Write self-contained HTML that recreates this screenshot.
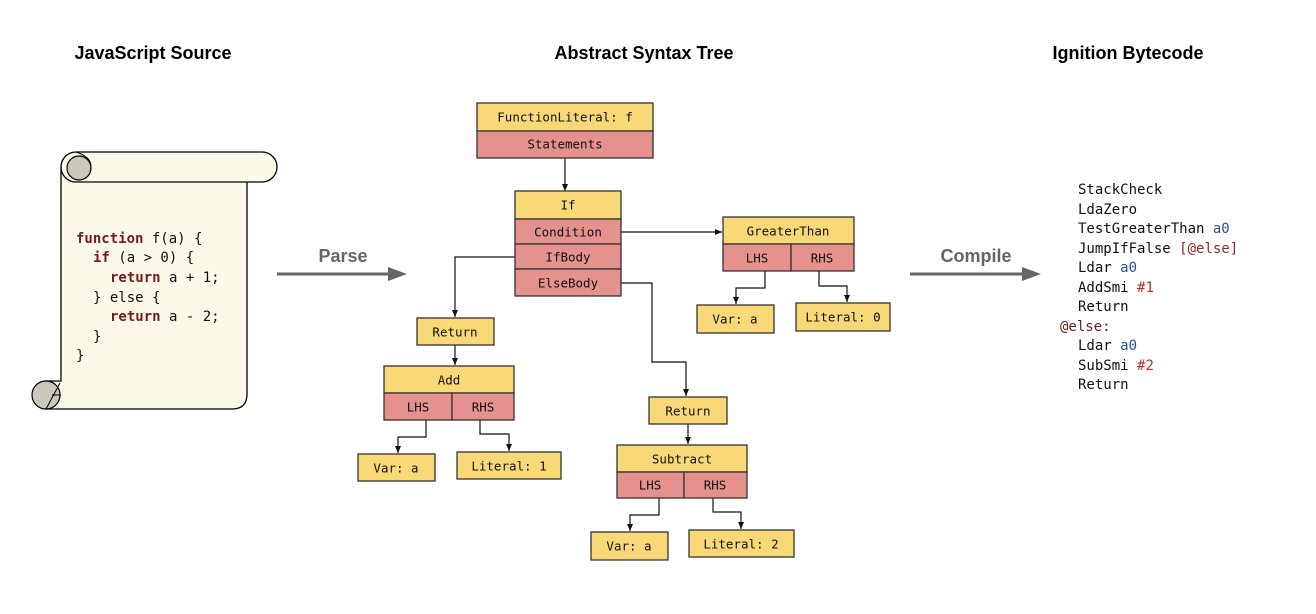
<!DOCTYPE html>
<html><head><meta charset="utf-8"><style>
html,body{margin:0;padding:0;background:#fff;}
svg{display:block;}
.t{font-family:"Liberation Sans",sans-serif;font-weight:bold;font-size:18px;fill:#000;text-anchor:middle;}
.n{font-family:"DejaVu Sans Mono","Liberation Mono",monospace;font-size:12.5px;fill:#111;text-anchor:middle;dominant-baseline:central;}
.c{font-family:"DejaVu Sans Mono","Liberation Mono",monospace;font-size:14px;fill:#111;}
.k{fill:#7a1a1a;font-weight:bold;}
.y{fill:#f9d977;stroke:#333;stroke-width:1.3;}
.r{fill:#e5918d;stroke:#333;stroke-width:1.3;}
.l{fill:none;stroke:#111;stroke-width:1.2;}
</style></head><body>
<svg width="1316" height="614" viewBox="0 0 1316 614" xmlns="http://www.w3.org/2000/svg">
<defs><marker id="a" markerWidth="8" markerHeight="8" refX="7" refY="4" orient="auto" markerUnits="userSpaceOnUse"><path d="M0,1 L7,4 L0,7 z" fill="#111"/></marker></defs>
<text class="t" x="153" y="59">JavaScript Source</text>
<text class="t" x="644" y="59">Abstract Syntax Tree</text>
<text class="t" x="1128" y="59">Ignition Bytecode</text>

<!-- scroll -->
<path d="M61,167 L61,381 L46,381 L46,409 L232,409 Q247,409 247,394 L247,182" fill="#fdf9ea" stroke="#000" stroke-width="1.3"/>
<rect x="61" y="152" width="216" height="30" rx="15" fill="#fdf9ea" stroke="#000" stroke-width="1.3"/>
<circle cx="79" cy="168" r="12" fill="#cbc8bd" stroke="#000" stroke-width="1.2"/>
<path d="M76,152 Q95,158 90,172" fill="none" stroke="#000"/>
<circle cx="46" cy="395" r="14" fill="#cbc8bd" stroke="#000" stroke-width="1.2"/>
<path d="M46,409 L60,383 M52,395 L61,395" fill="none" stroke="#000"/>
<g class="c">
<text x="76" y="243"><tspan class="k">function</tspan> f(a) {</text>
<text x="93" y="262"><tspan class="k">if</tspan> (a &gt; 0) {</text>
<text x="110" y="282"><tspan class="k">return</tspan> a + 1;</text>
<text x="93" y="302">} else {</text>
<text x="110" y="321"><tspan class="k">return</tspan> a - 2;</text>
<text x="93" y="341">}</text>
<text x="76" y="360">}</text>
</g>

<!-- arrows -->
<line x1="277" y1="274" x2="390" y2="274" stroke="#666" stroke-width="3"/>
<path d="M388,267 L407,274 L388,281 z" fill="#666"/>
<text class="t" x="343" y="262" style="fill:#666">Parse</text>
<line x1="910" y1="274" x2="1024" y2="274" stroke="#666" stroke-width="3"/>
<path d="M1022,267 L1041,274 L1022,281 z" fill="#666"/>
<text class="t" x="976" y="262" style="fill:#666">Compile</text>

<!-- connectors -->
<path class="l" d="M565,158 V191" marker-end="url(#a)"/>
<path class="l" d="M621,232 H722" marker-end="url(#a)"/>
<path class="l" d="M515,257 H455 V317" marker-end="url(#a)"/>
<path class="l" d="M621,283 H652 V362 H686 V396" marker-end="url(#a)"/>
<path class="l" d="M765,271 V288 H736 V304" marker-end="url(#a)"/>
<path class="l" d="M819,271 V286 H847 V302" marker-end="url(#a)"/>
<path class="l" d="M455,345 V365" marker-end="url(#a)"/>
<path class="l" d="M426,420 V437 H398 V453" marker-end="url(#a)"/>
<path class="l" d="M480,420 V434 H509 V451" marker-end="url(#a)"/>
<path class="l" d="M688,424 V444" marker-end="url(#a)"/>
<path class="l" d="M659,498 V515 H630 V531" marker-end="url(#a)"/>
<path class="l" d="M713,498 V512 H741 V529" marker-end="url(#a)"/>

<!-- nodes -->
<rect class="y" x="477" y="103" width="176" height="28"/><text class="n" x="565" y="117">FunctionLiteral: f</text>
<rect class="r" x="477" y="131" width="176" height="27"/><text class="n" x="565" y="144">Statements</text>

<rect class="y" x="515" y="191" width="106" height="28"/><text class="n" x="568" y="205">If</text>
<rect class="r" x="515" y="219" width="106" height="25"/><text class="n" x="568" y="232">Condition</text>
<rect class="r" x="515" y="244" width="106" height="25"/><text class="n" x="568" y="257">IfBody</text>
<rect class="r" x="515" y="269" width="106" height="27"/><text class="n" x="568" y="283">ElseBody</text>

<rect class="y" x="723" y="217" width="131" height="27"/><text class="n" x="788" y="231">GreaterThan</text>
<rect class="r" x="723" y="244" width="68" height="27"/><text class="n" x="757" y="258">LHS</text>
<rect class="r" x="791" y="244" width="63" height="27"/><text class="n" x="822" y="258">RHS</text>
<rect class="y" x="697" y="305" width="77" height="28"/><text class="n" x="735" y="319">Var: a</text>
<rect class="y" x="796" y="303" width="94" height="28"/><text class="n" x="843" y="317">Literal: 0</text>

<rect class="y" x="417" y="318" width="77" height="27"/><text class="n" x="455" y="332">Return</text>
<rect class="y" x="384" y="366" width="130" height="27"/><text class="n" x="449" y="380">Add</text>
<rect class="r" x="384" y="393" width="68" height="27"/><text class="n" x="418" y="407">LHS</text>
<rect class="r" x="452" y="393" width="62" height="27"/><text class="n" x="483" y="407">RHS</text>
<rect class="y" x="358" y="454" width="77" height="27"/><text class="n" x="396" y="468">Var: a</text>
<rect class="y" x="457" y="452" width="104" height="27"/><text class="n" x="509" y="466">Literal: 1</text>

<rect class="y" x="649" y="397" width="78" height="27"/><text class="n" x="688" y="411">Return</text>
<rect class="y" x="617" y="445" width="130" height="27"/><text class="n" x="682" y="459">Subtract</text>
<rect class="r" x="617" y="472" width="67" height="26"/><text class="n" x="650" y="485">LHS</text>
<rect class="r" x="684" y="472" width="63" height="26"/><text class="n" x="715" y="485">RHS</text>
<rect class="y" x="591" y="532" width="77" height="28"/><text class="n" x="629" y="546">Var: a</text>
<rect class="y" x="689" y="530" width="105" height="27"/><text class="n" x="741" y="544">Literal: 2</text>

<!-- bytecode -->
<g class="c">
<text x="1078" y="194">StackCheck</text>
<text x="1078" y="214">LdaZero</text>
<text x="1078" y="233">TestGreaterThan <tspan fill="#2a4f8f">a0</tspan></text>
<text x="1078" y="253">JumpIfFalse <tspan fill="#8b2a2a">[@else]</tspan></text>
<text x="1078" y="272">Ldar <tspan fill="#2a4f8f">a0</tspan></text>
<text x="1078" y="292">AddSmi <tspan fill="#c0282a">#1</tspan></text>
<text x="1078" y="311">Return</text>
<text x="1060" y="331" fill="#6b2020">@else:</text>
<text x="1078" y="350">Ldar <tspan fill="#2a4f8f">a0</tspan></text>
<text x="1078" y="370">SubSmi <tspan fill="#c0282a">#2</tspan></text>
<text x="1078" y="389">Return</text>
</g>
</svg>
</body></html>
